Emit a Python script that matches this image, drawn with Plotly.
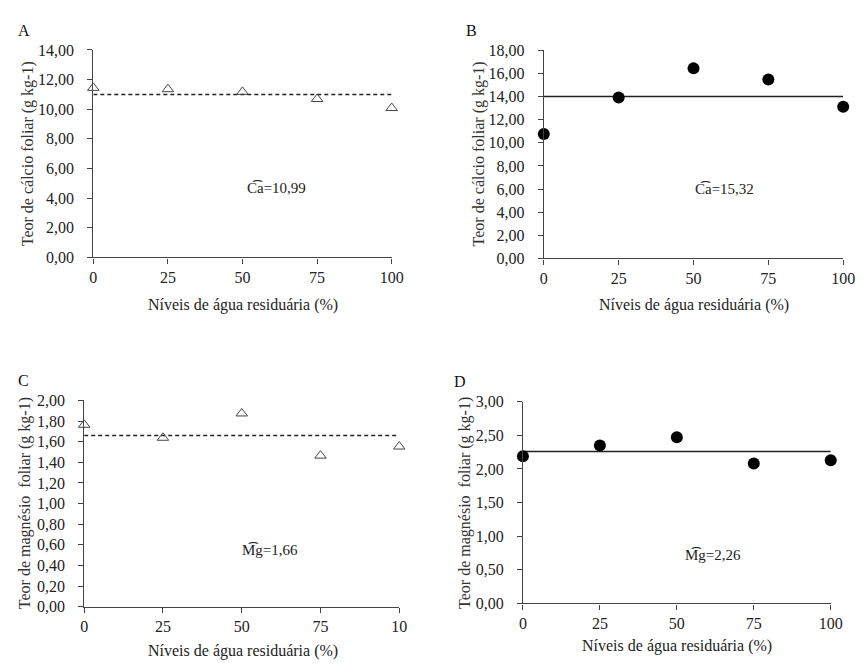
import plotly.graph_objects as go

levels = [0, 25, 50, 75, 100]
x_ticks = [0, 25, 50, 75, 100]

ca_a = [11.44, 11.35, 11.17, 10.69, 10.08]
ca_b = [10.76, 13.92, 16.43, 15.47, 13.11]
mg_c = [1.764, 1.638, 1.874, 1.465, 1.553]
mg_d = [2.19, 2.35, 2.47, 2.08, 2.13]

fit_a = 10.99
fit_b = 14.0
fit_c = 1.66
fit_d = 2.26

ytick_a = [0, 2, 4, 6, 8, 10, 12, 14]
ytick_b = [0, 2, 4, 6, 8, 10, 12, 14, 16, 18]
ytick_c = [0, 0.2, 0.4, 0.6, 0.8, 1.0, 1.2, 1.4, 1.6, 1.8, 2.0]
ytick_d = [0, 0.5, 1.0, 1.5, 2.0, 2.5, 3.0]

xlabels_abd = ["0", "25", "50", "75", "100"]
xlabels_c = ["0", "25", "50", "75", "10"]

FONT = "'Liberation Serif', 'Times New Roman', 'DejaVu Serif', serif"
W, H = 866, 668

fig = go.Figure()

panels = [
    dict(ax="", y=ca_a, fit=fit_a, yr=[0, 14], yt=ytick_a,
         xd=(91, 395), yd=(43, 256), open=True, dash="4px,3px",
         ytitle="Teor de cálcio foliar (g kg-1)", xl=xlabels_abd,
         eq="C͡a=10,99", eqx=61.5, eqy=4.67, letter="A", lx=20, ly=23,
         ytx=24, xtx=243, xty=305),
    dict(ax="2", y=ca_b, fit=fit_b, yr=[0, 18], yt=ytick_b,
         xd=(550, 855), yd=(43.3, 257), open=False, dash="solid",
         ytitle="Teor de cálcio foliar (g kg-1)", xl=xlabels_abd,
         eq="C͡a=15,32", eqx=60.5, eqy=6.0, letter="B", lx=476, ly=23,
         ytx=484, xtx=703, xty=305),
    dict(ax="3", y=mg_c, fit=fit_c, yr=[0, 2], yt=ytick_c,
         xd=(81.7, 402.7), yd=(402.7, 614.3), open=True, dash="4px,3px",
         ytitle="Teor de magnésio  foliar (g kg-1)", xl=xlabels_c,
         eq="M͡g=1,66", eqx=58.9, eqy=0.554, letter="C", lx=20, ly=382,
         ytx=21, xtx=243, xty=660),
    dict(ax="4", y=mg_d, fit=fit_d, yr=[0, 3], yt=ytick_d,
         xd=(528.7, 842.3), yd=(404, 611), open=False, dash="solid",
         ytitle="Teor de magnésio  foliar (g kg-1)", xl=xlabels_abd,
         eq="M͡g=2,26", eqx=61.7, eqy=0.714, letter="D", lx=465, ly=383,
         ytx=469, xtx=686, xty=655),
]

annotations = []
layout_axes = {}
for p in panels:
    xa = "x" + p["ax"]
    ya = "y" + p["ax"]
    if p["open"]:
        marker = dict(symbol="triangle-up-open", size=10, color="#444",
                      line=dict(width=1, color="#444"))
    else:
        marker = dict(symbol="circle", size=12, color="#000")
    fig.add_trace(go.Scatter(x=[levels[0], levels[-1]], y=[p["fit"], p["fit"]],
                             mode="lines", xaxis=xa, yaxis=ya,
                             line=dict(color="#222", width=1.4, dash=p["dash"]),
                             showlegend=False, hoverinfo="skip"))
    fig.add_trace(go.Scatter(x=levels, y=p["y"], mode="markers", xaxis=xa, yaxis=ya,
                             marker=marker, cliponaxis=False, showlegend=False))
    x0, x1 = p["xd"]
    yt0, yb0 = p["yd"]
    common = dict(showline=True, linecolor="#444", linewidth=1.2, ticks="outside",
                  ticklen=5, tickwidth=1.2, tickcolor="#444", showgrid=False,
                  zeroline=False, tickfont=dict(family=FONT, size=16, color="#222"))
    layout_axes["xaxis" + p["ax"]] = dict(
        domain=[x0 / W, x1 / W], range=[0, 100], anchor=ya,
        tickmode="array", tickvals=x_ticks, ticktext=p["xl"],
        ticklabelstandoff=0, **common)
    layout_axes["yaxis" + p["ax"]] = dict(
        domain=[1 - yb0 / H, 1 - yt0 / H], range=p["yr"], anchor=xa,
        tickmode="array", tickvals=p["yt"],
        ticktext=[f"{v:.2f}".replace(".", ",") for v in p["yt"]],
        ticklabelstandoff=10, **common)
    annotations.append(dict(xref=xa, yref=ya, x=p["eqx"], y=p["eqy"], text=p["eq"],
                            showarrow=False, font=dict(family=FONT, size=15, color="#222")))
    annotations.append(dict(xref="paper", yref="paper", x=p["lx"] / W, y=1 - p["ly"] / H,
                            text=p["letter"], showarrow=False, xanchor="center", yanchor="middle",
                            font=dict(family=FONT, size=16, color="#111")))
    annotations.append(dict(xref="paper", yref="paper", x=p["ytx"] / W,
                            y=1 - ((yt0 + yb0) / 2) / H, text=p["ytitle"], textangle=-90,
                            showarrow=False, xanchor="center", yanchor="middle",
                            font=dict(family=FONT, size=16, color="#333")))
    annotations.append(dict(xref="paper", yref="paper", x=p["xtx"] / W, y=1 - p["xty"] / H,
                            text="Níveis de água residuária (%)", showarrow=False,
                            xanchor="center", yanchor="middle",
                            font=dict(family=FONT, size=16, color="#222")))

fig.update_layout(width=W, height=H, margin=dict(l=0, r=0, t=0, b=0),
                  paper_bgcolor="white", plot_bgcolor="white",
                  font=dict(family=FONT),
                  annotations=annotations, **layout_axes)

fig.write_html("out.html")
